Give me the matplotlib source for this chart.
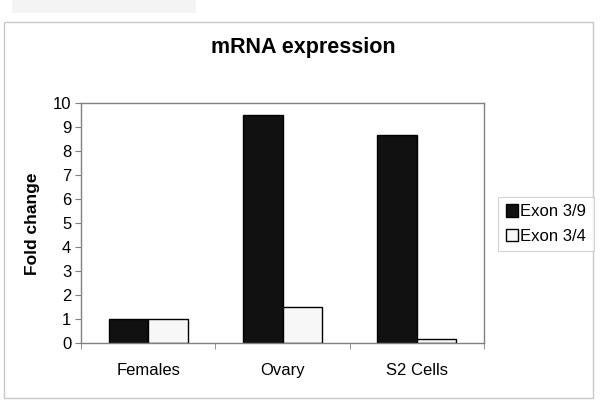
import matplotlib
matplotlib.use('Agg')
import matplotlib.pyplot as plt
import numpy as np
from matplotlib.patches import Rectangle

plt.rcParams['font.family'] = ['Liberation Sans', 'DejaVu Sans']

# data
categories = ['Females', 'Ovary', 'S2 Cells']
exon_3_9 = [1.0, 9.5, 8.7]
exon_3_4 = [1.0, 1.5, 0.2]
series_labels = ['Exon 3/9', 'Exon 3/4']

W, H = 600, 405
fig = plt.figure(figsize=(6, 4.05), dpi=100)

# outer chart frame and faint box at top (behind the axes)
fig.patches.append(Rectangle((4 / W, 1 - 398 / H), 589 / W, 376 / H, transform=fig.transFigure,
                             facecolor='white', edgecolor='#c8c8c8', linewidth=1.0, zorder=-5))
fig.patches.append(Rectangle((12 / W, 1 - 13 / H), 184 / W, 13 / H, transform=fig.transFigure,
                             facecolor='#f4f4f4', edgecolor='none', zorder=-5))

ax = fig.add_axes([81 / W, 1 - 343.3 / H, 403 / W, 240 / H])
ax.set_zorder(2)
ax.patch.set_alpha(0)
x = np.arange(len(categories))
bw = 0.295
ax.bar(x - bw / 2, exon_3_9, width=bw, color='#111111', edgecolor='black', linewidth=1.0,
       label=series_labels[0])
ax.bar(x + bw / 2, exon_3_4, width=bw, color='#f7f7f7', edgecolor='black', linewidth=1.0,
       label=series_labels[1])

ax.set_xlim(-0.5, 2.5)
ax.set_ylim(0, 10)
ax.set_yticks(range(0, 11))
ax.set_xticks(x)
ax.set_xticklabels(categories, fontsize=12)
ax.set_xticks([-0.5, 0.5, 1.5, 2.5], minor=True)
ax.tick_params(axis='x', which='major', length=0, pad=14)
ax.tick_params(axis='x', which='minor', length=4, color='#808080', direction='out')
ax.tick_params(axis='y', labelsize=12, length=4, color='#808080', pad=3)
for s in ax.spines.values():
    s.set_color('#808080')
    s.set_linewidth(1.0)
ax.set_ylabel('Fold change', fontsize=12.5, fontweight='bold', labelpad=9)

fig.text(303 / W, 1 - 47 / H, 'mRNA expression', fontsize=15.5, fontweight='bold',
         ha='center', va='center')

leg = ax.legend(loc='center left', bbox_to_anchor=(498 / W, 1 - 224 / H),
                bbox_transform=fig.transFigure, fontsize=12, frameon=True, fancybox=False,
                edgecolor='#c8c8c8', handlelength=0.75, handleheight=0.75, handletextpad=0.15,
                borderpad=0.45, borderaxespad=0, labelspacing=0.55)
leg.get_frame().set_linewidth(0.8)
leg._legend_box.sep = 2
fig.canvas.draw()
# tighten the horizontal padding of the legend frame
leg.borderpad = 0.45

fig.savefig('out.png', dpi=100)
